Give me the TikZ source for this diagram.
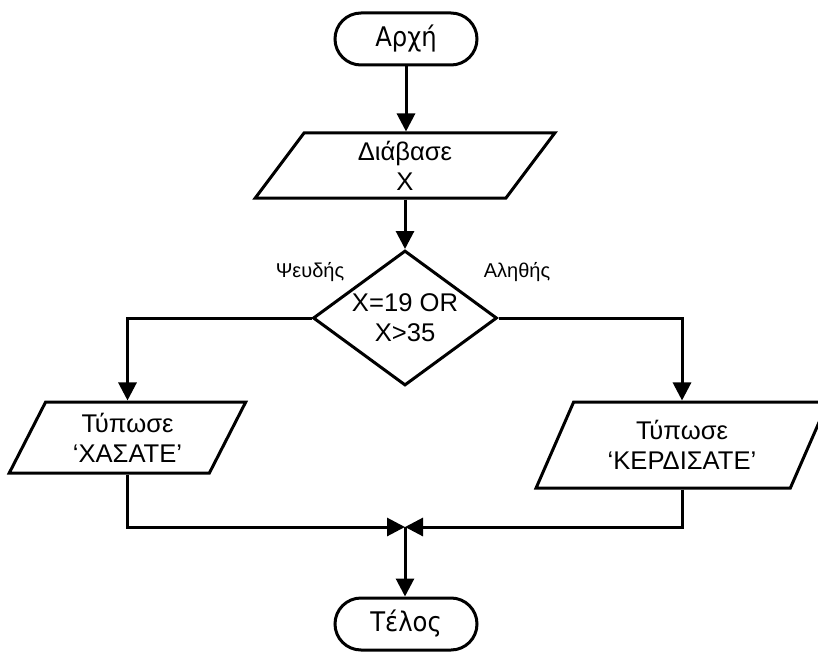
\documentclass[tikz,border=0pt]{standalone}
\usepackage{fontspec}
\setmainfont{Liberation Sans}
\newfontfamily\termfont[FakeStretch=0.9]{DejaVu Sans}
\usetikzlibrary{shapes.geometric,arrows.meta}
\begin{document}
\begin{tikzpicture}[x=1bp,y=-1bp,
  line width=3bp,
  maintext/.style={font=\fontsize{25.6bp}{30bp}\selectfont, align=center},
  terminal/.style={draw, rectangle, rounded corners=26bp, minimum width=142bp,
     minimum height=52bp, inner sep=0pt, font=\termfont\fontsize{27bp}{30bp}\selectfont},
  iobox/.style={draw, trapezium, trapezium stretches=true, inner sep=0pt, maintext},
  decision/.style={draw, diamond, aspect=1.36, minimum width=184bp, minimum height=135bp,
     inner sep=0pt, maintext},
  branchlabel/.style={font=\fontsize{20bp}{24bp}\selectfont},
  arr/.style={-{Triangle[length=18bp,width=18bp]}}
]
\useasboundingbox (0,0) rectangle (818,654);

\node[terminal] (start) at (406,39) {Αρχή};
\node[iobox, trapezium left angle=65.2, trapezium right angle=114.8,
      minimum width=300bp, minimum height=65bp] (read) at (405,165.5) {Διάβασε\\X};
\node[decision] (dec) at (405,318) {X=19 OR\\X>35};
\node[branchlabel] (lf) at (310,272) {Ψευδής};
\node[branchlabel] (lt) at (517,272) {Αληθής};
\node[iobox, trapezium left angle=63.8, trapezium right angle=116.2,
      minimum width=237bp, minimum height=71bp] (lose) at (127.5,437.5) {Τύπωσε\\‘ΧΑΣΑΤΕ’};
\node[iobox, trapezium left angle=62.4, trapezium right angle=117.6,
      minimum width=292bp, minimum height=86bp] (win) at (682,445) {Τύπωσε\\‘ΚΕΡΔΙΣΑΤΕ’};
\coordinate (m) at (405,527);
\node[terminal] (end) at (406,624) {Τέλος};

\draw[arr] (start.south) -- (read.north -| start.south);
\draw[arr] (read.south -| dec.north) -- (dec.north);
\draw[arr] (dec.west) -| (lose.north);
\draw[arr] (dec.east) -| (win.north);
\draw[arr] (lose.south) |- (m);
\draw[arr] (win.south) |- (m);
\draw[arr] (m) -- (m |- end.north);
\end{tikzpicture}
\end{document}
